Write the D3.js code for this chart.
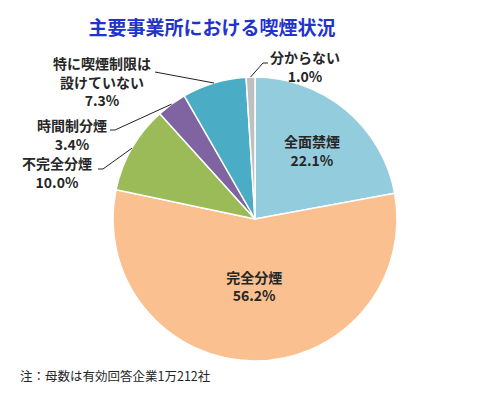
<!DOCTYPE html>
<html>
<head>
<meta charset="utf-8">
<script src="https://cdn.jsdelivr.net/npm/d3@7"></script>
<style>
body { margin: 0; background: #fff; }
text { font-family: "Noto Sans CJK JP", "Noto Sans", sans-serif; }
</style>
</head>
<body>
<div id="chart"></div>
<script>
var categories = ["全面禁煙", "完全分煙", "不完全分煙", "時間制分煙",
    "特に喫煙制限は設けていない", "分からない"];
var values = [22.1, 56.2, 10.0, 3.4, 7.3, 1.0];
var nameLines = [["全面禁煙"], ["完全分煙"], ["不完全分煙"], ["時間制分煙"],
    ["特に喫煙制限は", "設けていない"], ["分からない"]];
var colors = ["#93CDDD", "#FAC090", "#9BBB59", "#8064A2", "#4BACC6", "#BFBFBF"];

var width = 500, height = 396;
var cx = 255, cy = 219, radius = 142;

var svg = d3.select("#chart")
    .append("svg")
    .attr("width", width)
    .attr("height", height);

svg.append("text")
    .attr("x", 212)
    .attr("y", 26)
    .attr("text-anchor", "middle")
    .attr("dominant-baseline", "central")
    .attr("fill", "#2233CC")
    .style("font-size", "19px")
    .style("font-weight", "bold")
    .text("主要事業所における喫煙状況");

var pie = d3.pie()
    .sort(null)
    .value(function(d) { return d; });

var arcs = pie(values);

var arc = d3.arc()
    .innerRadius(0)
    .outerRadius(radius);

var g = svg.append("g")
    .attr("transform", "translate(" + cx + "," + cy + ")");

g.selectAll("path")
    .data(arcs)
    .enter().append("path")
    .attr("d", arc)
    .attr("fill", function(d, i) { return colors[i]; })
    .attr("stroke", "#fff")
    .style("stroke-width", 1.5);

// inside labels: radius where label sits
var inside = { 0: 89, 1: 67 };
// outside labels: elbow / end of leader line and text block, in page coords
var outside = {
    2: { pts: [[103, 169], [98, 169]], x: 57, y: 163 },
    3: { pts: [[115, 130], [110, 130]], x: 72, y: 125 },
    4: { pts: [[155, 72]], x: 102, y: 63 },
    5: { pts: [[263, 63], [268, 63]], x: 305, y: 57 }
};
var lineH = 18.5;

function pct(v) { return v.toFixed(1) + "%"; }

arcs.forEach(function(d, i) {
    var mid = (d.startAngle + d.endAngle) / 2;
    var lines = nameLines[i].concat([pct(values[i])]);
    var x0, y0;
    if (inside[i] !== undefined) {
        var r = inside[i];
        x0 = cx + r * Math.sin(mid);
        y0 = cy - r * Math.cos(mid) - lineH * (lines.length - 1) / 2;
    } else {
        var o = outside[i];
        var start = [cx + radius * Math.sin(mid), cy - radius * Math.cos(mid)];
        svg.append("path")
            .attr("d", d3.line()([start].concat(o.pts)))
            .attr("fill", "none")
            .attr("stroke", "#222")
            .style("stroke-width", 1);
        x0 = o.x;
        y0 = o.y;
    }
    lines.forEach(function(t, k) {
        svg.append("text")
            .attr("x", x0)
            .attr("y", y0 + k * lineH)
            .attr("text-anchor", "middle")
            .attr("dominant-baseline", "central")
            .attr("fill", "#262626")
            .style("font-size", "14px")
            .style("font-weight", "bold")
            .text(t);
    });
});

svg.append("text")
    .attr("x", 20)
    .attr("y", 375)
    .attr("dominant-baseline", "central")
    .attr("fill", "#262626")
    .style("font-size", "12.5px")
    .text("注：母数は有効回答企業1万212社");
</script>
</body>
</html>
